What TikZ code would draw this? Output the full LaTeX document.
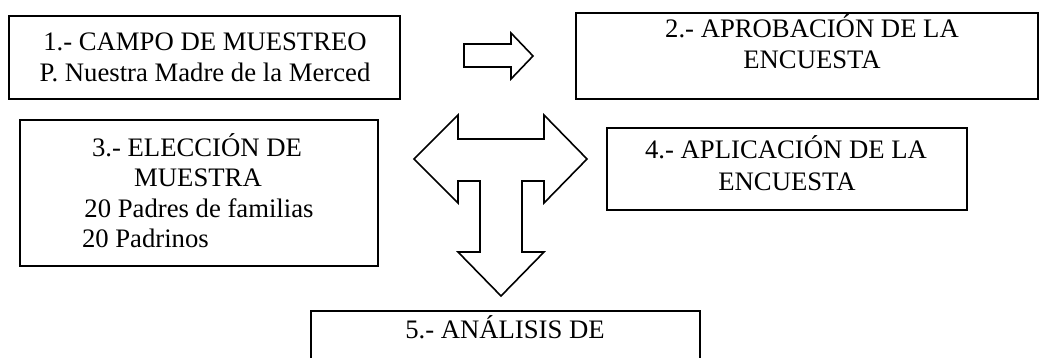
\documentclass[tikz,border=0pt]{standalone}
\usepackage{fontspec}
\setmainfont{Liberation Serif}
\begin{document}
\begin{tikzpicture}[x=1pt,y=-1pt,
  box/.style={draw=black,line width=1.6pt,inner sep=0pt,outer sep=0pt,anchor=north west},
  lbl/.style={inner sep=0pt,outer sep=0pt,anchor=base,font=\fontsize{26.7}{30.7}\selectfont},
  lblw/.style={lbl,anchor=base west},
  blockarrow/.style={draw=black,line width=1.6pt,line join=miter,fill=white}]
\useasboundingbox (0,0) rectangle (1040,358);
\clip (0,0) rectangle (1040,358);
\fill[white] (0,0) rectangle (1040,358);
% boxes
\node[box,minimum width=391pt,minimum height=83pt] (b1) at (9,16) {};
\node[box,minimum width=462pt,minimum height=86pt] (b2) at (576,13) {};
\node[box,minimum width=358pt,minimum height=146pt] (b3) at (20,120) {};
\node[box,minimum width=360pt,minimum height=82pt] (b4) at (607,128) {};
\node[box,minimum width=389pt,minimum height=80pt] (b5) at (311,311) {};
% texts
\node[lbl] (t1a) at (205,50.7) {1.- CAMPO DE MUESTREO};
\node[lbl] (t1b) at (205,81.7) {P. Nuestra Madre de la Merced};
\node[lbl] (t2a) at (812,37.5) {2.- APROBACIÓN DE LA};
\node[lbl] (t2b) at (812,68.5) {ENCUESTA};
\node[lbl] (t3a) at (197,156.7) {3.- ELECCIÓN DE};
\node[lbl] (t3b) at (198,186.7) {MUESTRA};
\node[lbl] (t3c) at (199,217.5) {20 Padres de familias};
\node[lblw] (t3d) at (82,247.5) {20 Padrinos};
\node[lbl] (t4a) at (786,159) {4.- APLICACIÓN DE LA};
\node[lbl] (t4b) at (787,190) {ENCUESTA};
\node[lbl] (t5a) at (505,338) {5.- ANÁLISIS DE};
% block arrows
\draw[blockarrow] (464,44) -- (511,44) -- (511,33) -- (533,56) -- (511,79) -- (511,67) -- (464,67) -- cycle;
\draw[blockarrow] (414,159) -- (458,115) -- (458,139) -- (544,139) -- (544,115) -- (587,159)
  -- (544,203) -- (544,181) -- (522,181) -- (522,252) -- (544,252) -- (501,296)
  -- (458,252) -- (480,252) -- (480,181) -- (458,181) -- (458,203) -- cycle;
\end{tikzpicture}
\end{document}
